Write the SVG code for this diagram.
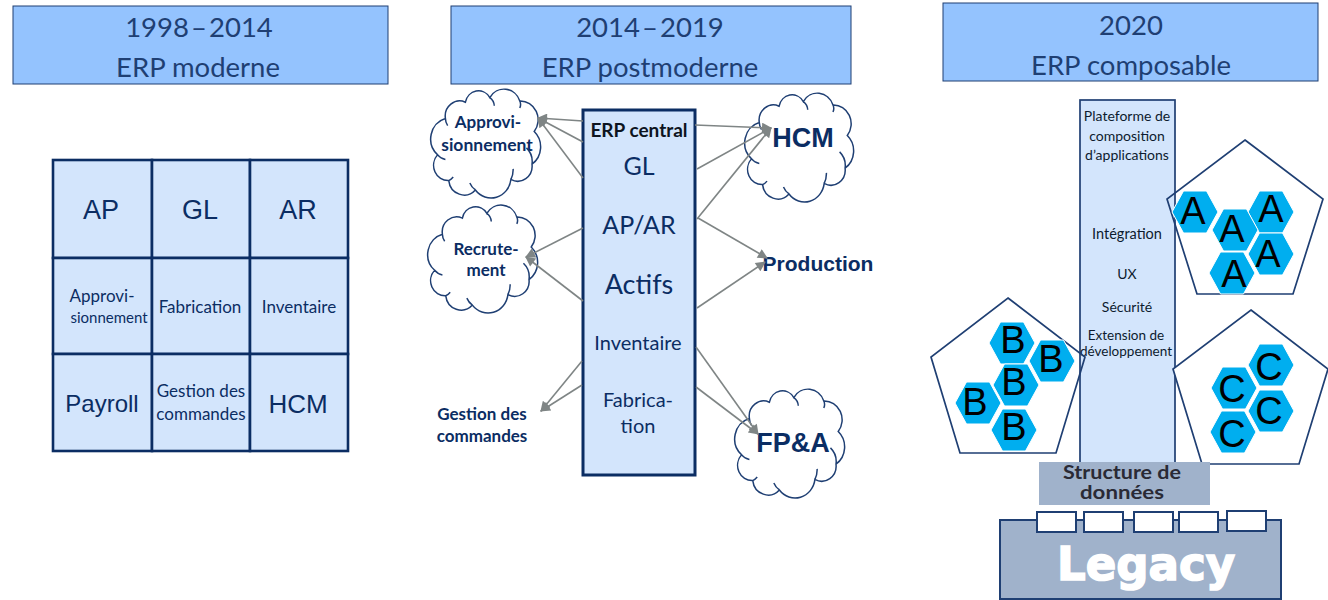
<svg xmlns="http://www.w3.org/2000/svg" xmlns:xlink="http://www.w3.org/1999/xlink" width="1328" height="600" viewBox="0 0 1328 600">
<style>
text{font-family:Lato,"Liberation Sans",sans-serif;text-anchor:middle;fill:#0b2d63}
.hdr{fill:#94c3fe;stroke:#1f3f73;stroke-width:1}
.htx{font-size:27.5px;fill:#1f3f73}
.dt{word-spacing:-5px}
.cell{fill:#d3e5fc;stroke:#0b2d63;stroke-width:2.6}
.ar{font-family:"Liberation Sans",sans-serif;fill:#0b2d63}
.sm{font-size:17px}
.blk{font-size:14px;fill:#0d1b2e}
.cl{fill:#fff;stroke:#1f3f73;stroke-width:1.5;vector-effect:non-scaling-stroke}
.bd{font-weight:700}
.cn{stroke:#7f8585;stroke-width:1.6;fill:none;marker-end:url(#ah)}
.pent{fill:#fff;stroke:#1f3f73;stroke-width:1.7}
.hex{fill:#00aeef;stroke:#fff;stroke-width:1}
.hl{font-family:"Liberation Sans",sans-serif;font-size:38px;fill:#000}
.port{fill:#fff;stroke:#1f3f73;stroke-width:2}
</style>
<defs>
<marker id="ah" viewBox="0 0 10 10" refX="9" refY="5" markerWidth="12" markerHeight="10" markerUnits="userSpaceOnUse" orient="auto"><path d="M0 0L10 5L0 10Z" fill="#7f8585"/></marker>
<path id="hx" d="M-23 0L-11.500 -21H11.500L23 0L11.500 21H-11.500Z"/>
<path id="cloud" class="cl" d="M13 27A13 13 0 0 1 31 13A12 12 0 0 1 53 9A15 15 0 0 1 80 12A16 16 0 0 1 93 38A18 18 0 0 1 91 66A13 13 0 0 1 72 79A18 18 0 0 1 40 88A14 14 0 0 1 16 80A13 13 0 0 1 6 58A18 18 0 0 1 13 27ZM91 66A16 16 0 0 0 86 52M72 79A18 18 0 0 0 74 70M40 88A14 14 0 0 1 35 82M16 80A11 11 0 0 0 20 77M6 58A12 12 0 0 0 13 62M13 27A10 10 0 0 0 15 33M53 9A9 9 0 0 1 57 16M80 12A7 7 0 0 1 80 18"/>
</defs>
<g id="h1"><rect class="hdr" x="13" y="6" width="375" height="78"/><text class="htx dt" x="199" y="37">1998 – 2014</text><text class="htx" x="198" y="77">ERP moderne</text></g>
<g id="h2"><rect class="hdr" x="451" y="6" width="400" height="78"/><text class="htx dt" x="650" y="37">2014 – 2019</text><text class="htx" x="650" y="77">ERP postmoderne</text></g>
<g id="h3"><rect class="hdr" x="943" y="3" width="375" height="78"/><text class="htx" x="1131" y="35">2020</text><text class="htx" x="1131" y="75">ERP composable</text></g>
<g id="table">
<rect class="cell" x="53" y="160" width="99" height="98"/><rect class="cell" x="152" y="160" width="98" height="98"/><rect class="cell" x="250" y="160" width="98" height="98"/>
<rect class="cell" x="53" y="258" width="99" height="96"/><rect class="cell" x="152" y="258" width="98" height="96"/><rect class="cell" x="250" y="258" width="98" height="96"/>
<rect class="cell" x="53" y="354" width="99" height="97"/><rect class="cell" x="152" y="354" width="98" height="97"/><rect class="cell" x="250" y="354" width="98" height="97"/>
<text class="ar" font-size="27" x="101" y="219">AP</text><text class="ar" font-size="27" x="200" y="219">GL</text><text class="ar" font-size="27" x="298" y="219">AR</text>
<text class="sm" x="102" y="302">Approvi-</text><text class="sm" style="font-size:15px" x="109" y="323">sionnement</text><text class="sm" x="200" y="313">Fabrication</text><text class="sm" x="299" y="313">Inventaire</text>
<text class="ar" font-size="24" x="102" y="412">Payroll</text><text class="sm" x="201" y="397">Gestion des</text><text class="sm" x="201" y="420">commandes</text><text class="ar" font-size="26" x="298" y="413">HCM</text>
</g>
<g id="c-appro"><use xlink:href="#cloud" href="#cloud" transform="translate(431 87) scale(1.11 1.17)"/><text class="bd" font-size="17" x="488" y="128">Approvi-</text><text class="bd" font-size="17.500" x="487" y="151">sionnement</text></g>
<g id="c-recru"><use xlink:href="#cloud" href="#cloud" transform="translate(428 203) scale(1.11 1.16)"/><text class="bd" font-size="17" x="486" y="255">Recrute-</text><text class="bd" font-size="17" x="486" y="276">ment</text></g>
<g id="c-hcm"><use xlink:href="#cloud" href="#cloud" transform="translate(745 91) scale(1.10 1.17)"/><text class="ar bd" font-size="27" x="803" y="147">HCM</text></g>
<g id="c-fpa"><use xlink:href="#cloud" href="#cloud" transform="translate(735 387) scale(1.11 1.17)"/><text class="ar bd" font-size="27" x="793" y="452">FP&amp;A</text></g>
<g id="central"><rect class="cell" style="stroke-width:3" x="583" y="110" width="112" height="365"/>
<text class="bd" font-size="19" x="639" y="137" style="fill:#0d1420">ERP central</text>
<text font-size="25" x="639" y="175">GL</text><text font-size="25" x="639" y="234">AP/AR</text><text font-size="27" x="639" y="294">Actifs</text><text font-size="20" x="638" y="350">Inventaire</text><text font-size="20" x="638" y="407">Fabrica-</text><text font-size="20" x="638" y="433">tion</text></g>
<g id="prod"><text class="ar bd" font-size="21" x="818" y="271">Production</text></g>
<g id="gestion"><text class="bd" font-size="17" x="482" y="420">Gestion des</text><text class="bd" font-size="17" x="482" y="442">commandes</text></g>
<g id="connectors">
<path class="cn" d="M583 121L538 118"/><path class="cn" d="M583 142L538 118"/><path class="cn" d="M583 178L538 118"/>
<path class="cn" d="M695 125L771 128"/><path class="cn" d="M697 169L771 128"/><path class="cn" d="M697 219L771 128"/>
<path class="cn" d="M698 218L767 258"/><path class="cn" d="M697 308L765 262"/>
<path class="cn" d="M583 228L526 257"/><path class="cn" d="M583 301L526 257"/>
<path class="cn" d="M582 361L541 411"/><path class="cn" d="M582 385L541 411"/>
<path class="cn" d="M696 347L758 434"/><path class="cn" d="M696 387L758 434"/>
</g>
<g id="platform"><rect x="1080" y="100" width="95" height="370" fill="#d3e5fc" stroke="#1f3f73" stroke-width="1.7"/>
<text class="blk" x="1127" y="121">Plateforme de</text><text class="blk" x="1127" y="141">composition</text><text class="blk" x="1127" y="160">d’applications</text>
<text class="blk" style="font-size:14.500px" x="1127" y="239">Intégration</text><text class="blk" x="1127" y="279">UX</text><text class="blk" x="1127" y="312">Sécurité</text><text class="blk" style="font-size:13.500px" x="1126" y="340">Extension de</text><text class="blk" style="font-size:13.500px" x="1126" y="356">développement</text></g>
<g id="pa"><path class="pent" style="fill:none" d="M1245 140L1323 199L1293 294H1197L1167 199Z"/>
<use xlink:href="#hx" href="#hx" class="hex" x="1195" y="212"/><use xlink:href="#hx" href="#hx" class="hex" x="1271" y="212"/><use xlink:href="#hx" href="#hx" class="hex" x="1235" y="230"/><use xlink:href="#hx" href="#hx" class="hex" x="1271" y="254"/><use xlink:href="#hx" href="#hx" class="hex" x="1232" y="273"/>
<text class="hl" x="1193" y="224">A</text><text class="hl" x="1271" y="222">A</text><text class="hl" x="1232" y="242">A</text><text class="hl" x="1268" y="267">A</text><text class="hl" x="1234" y="287">A</text></g>
<g id="pb"><path class="pent" style="fill:none" d="M1008 298L1085 357L1056 453H960L931 357Z"/>
<use xlink:href="#hx" href="#hx" class="hex" x="1012" y="343"/><use xlink:href="#hx" href="#hx" class="hex" x="1052" y="361"/><use xlink:href="#hx" href="#hx" class="hex" x="1016" y="385"/><use xlink:href="#hx" href="#hx" class="hex" x="978" y="403"/><use xlink:href="#hx" href="#hx" class="hex" x="1014" y="430"/>
<text class="hl" x="1013" y="353">B</text><text class="hl" x="1051" y="372">B</text><text class="hl" x="1014" y="395">B</text><text class="hl" x="975" y="415">B</text><text class="hl" x="1014" y="440">B</text></g>
<g id="pc"><path class="pent" d="M1251 310L1328 369L1299 464H1202L1173 369Z"/>
<use xlink:href="#hx" href="#hx" class="hex" x="1271" y="365"/><use xlink:href="#hx" href="#hx" class="hex" x="1234" y="388"/><use xlink:href="#hx" href="#hx" class="hex" x="1271" y="411"/><use xlink:href="#hx" href="#hx" class="hex" x="1233" y="432"/>
<text class="hl" x="1269" y="380">C</text><text class="hl" x="1232" y="402">C</text><text class="hl" x="1269" y="424">C</text><text class="hl" x="1232" y="447">C</text></g>
<g id="structure"><rect x="1039" y="462" width="171" height="43" fill="#a0b2cb"/><text class="bd" font-size="18" x="1122" y="479" textLength="118" lengthAdjust="spacingAndGlyphs" style="fill:#2a2a35">Structure de</text><text class="bd" font-size="18" x="1122" y="499" textLength="84" lengthAdjust="spacingAndGlyphs" style="fill:#2a2a35">données</text></g>
<g id="legacy"><rect x="1000" y="520" width="281" height="79" fill="#a0b2cb" stroke="#1f3f73" stroke-width="2"/>
<text font-size="46" x="1146" y="580" textLength="178" lengthAdjust="spacingAndGlyphs" stroke="#fff" stroke-width="1.6" style="fill:#fff;font-weight:700;font-family:'DejaVu Sans',sans-serif">Legacy</text>
<rect class="port" x="1037" y="512" width="39" height="20"/><rect class="port" x="1084" y="512" width="39" height="20"/><rect class="port" x="1134" y="512" width="39" height="20"/><rect class="port" x="1179" y="512" width="39" height="20"/><rect class="port" x="1227" y="511" width="39" height="20"/></g>
</svg>
